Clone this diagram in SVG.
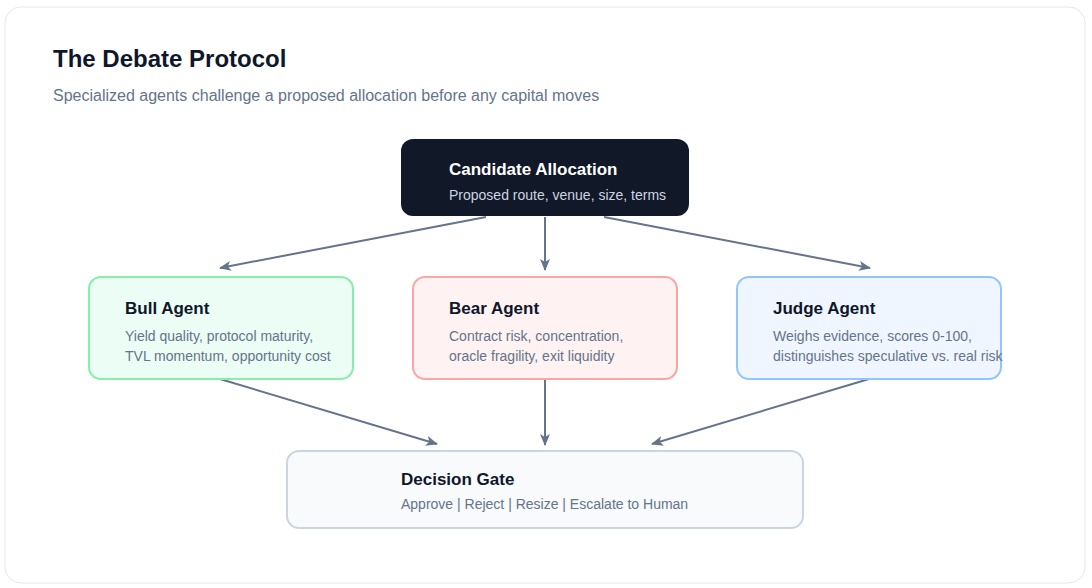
<svg xmlns="http://www.w3.org/2000/svg" width="1092" height="588" viewBox="0 0 1092 588">
<style>
text{font-family:"Liberation Sans",Arial,sans-serif}
.t{font-size:17px;font-weight:bold;fill:#0f172a}
.s{font-size:14px;fill:#64748b}
.c{stroke:#64748b;stroke-width:2;fill:none}
</style>
<defs><marker id="a" viewBox="0 0 12 10" refX="11" refY="5" markerWidth="12" markerHeight="10" markerUnits="userSpaceOnUse" orient="auto"><path d="M0,0 L12,5 L0,10 L3,5 Z" fill="#64748b"/></marker></defs>
<rect x="5" y="7" width="1080" height="576" rx="16" fill="#fff" stroke="#e5e7eb"/>
<text x="53" y="67" font-size="24" font-weight="bold" fill="#0f172a">The Debate Protocol</text>
<text x="53" y="101" font-size="16" fill="#64748b">Specialized agents challenge a proposed allocation before any capital moves</text>
<g id="connectors">
<path class="c" d="M486,217 L220,268" marker-end="url(#a)"/>
<path class="c" d="M545,217 L545,270" marker-end="url(#a)"/>
<path class="c" d="M604,217 L870,268" marker-end="url(#a)"/>
<path class="c" d="M220,379 L437,444" marker-end="url(#a)"/>
<path class="c" d="M545,379 L545,445" marker-end="url(#a)"/>
<path class="c" d="M869,379 L652,444" marker-end="url(#a)"/>
</g>
<g id="candidate"><rect x="401" y="139" width="288" height="77" rx="12" fill="#111827"/>
<text class="t" x="449" y="175" fill="#fff" style="fill:#fff">Candidate Allocation</text>
<text class="s" x="449" y="200" style="fill:#cbd5e1">Proposed route, venue, size, terms</text></g>
<g id="bull"><rect x="89" y="277" width="264" height="102" rx="12" fill="#ecfdf5" stroke="#86efac" stroke-width="2"/>
<text class="t" x="125" y="314">Bull Agent</text>
<text class="s" x="125" y="341">Yield quality, protocol maturity,</text>
<text class="s" x="125" y="361">TVL momentum, opportunity cost</text></g>
<g id="bear"><rect x="413" y="277" width="264" height="102" rx="12" fill="#fef2f2" stroke="#fca5a5" stroke-width="2"/>
<text class="t" x="449" y="314">Bear Agent</text>
<text class="s" x="449" y="341">Contract risk, concentration,</text>
<text class="s" x="449" y="361">oracle fragility, exit liquidity</text></g>
<g id="judge"><rect x="737" y="277" width="264" height="102" rx="12" fill="#eff6ff" stroke="#93c5fd" stroke-width="2"/>
<text class="t" x="773" y="314">Judge Agent</text>
<text class="s" x="773" y="341">Weighs evidence, scores 0-100,</text>
<text class="s" x="773" y="361">distinguishes speculative vs. real risk</text></g>
<g id="gate"><rect x="287" y="451" width="516" height="77" rx="12" fill="#f8fafc" stroke="#cbd5e1" stroke-width="2"/>
<text class="t" x="401" y="485">Decision Gate</text>
<text class="s" x="401" y="509">Approve | Reject | Resize | Escalate to Human</text></g>
</svg>
